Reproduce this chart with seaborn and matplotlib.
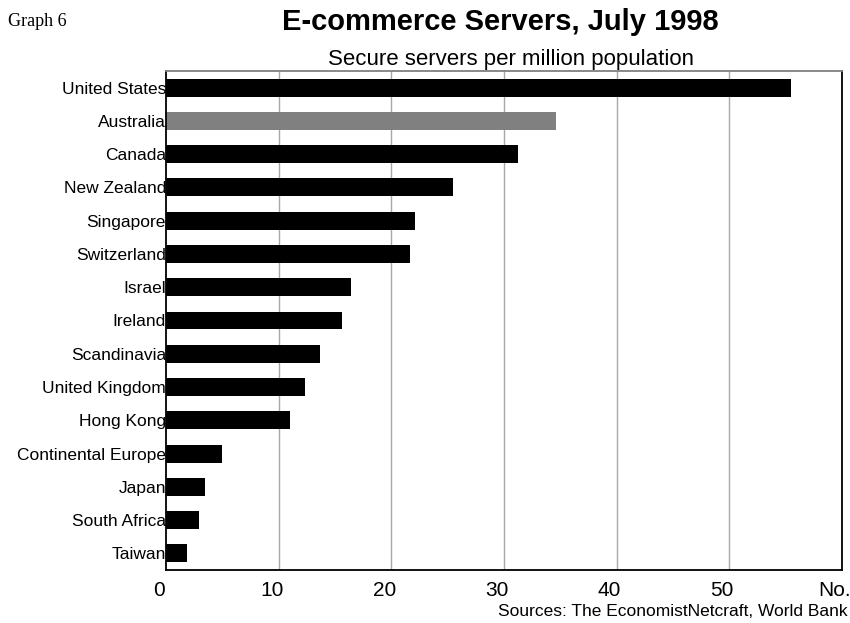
import matplotlib
matplotlib.use("Agg")
import matplotlib.pyplot as plt
import matplotlib.transforms as mtransforms
import seaborn as sns
import pandas as pd

countries = ["United States", "Australia", "Canada", "New Zealand", "Singapore",
             "Switzerland", "Israel", "Ireland", "Scandinavia", "United Kingdom",
             "Hong Kong", "Continental Europe", "Japan", "South Africa", "Taiwan"]
values = [55.5, 34.6, 31.2, 25.5, 22.1, 21.7, 16.4, 15.6, 13.7, 12.3, 11.0, 5.0, 3.5, 2.9, 1.9]
bar_colors = ["#000000", "#808080"] + ["#000000"] * 13
xtick_vals = [0, 10, 20, 30, 40, 50, 60]
xtick_labels = ["0", "10", "20", "30", "40", "50", "No."]

df = pd.DataFrame({"country": countries, "value": values})

sns.set_style("white")
plt.rcParams["font.family"] = ["Liberation Sans", "DejaVu Sans"]
plt.rcParams["text.color"] = "black"
plt.rcParams["xtick.color"] = "black"
plt.rcParams["ytick.color"] = "black"
plt.rcParams["axes.labelcolor"] = "black"

fig = plt.figure(figsize=(8.5, 6.23), dpi=100)
ax = fig.add_axes([166/850, 1 - 570/623, (842 - 166)/850, (570 - 71)/623])

sns.barplot(data=df, x="value", y="country", hue="country",
            palette=dict(zip(countries, bar_colors)), legend=False,
            width=0.54, orient="h", ax=ax, saturation=1, linewidth=0)

ax.set_xlim(0, 60)
ax.set_ylim(14.5, -0.5)
ax.set_xticks(xtick_vals)
ax.set_xticklabels(xtick_labels, fontsize=15)
ax.tick_params(axis="y", labelsize=12.5, length=0, pad=0, labelcolor="black")
ax.tick_params(axis="x", length=0, pad=8, labelcolor="black")
ax.set_xlabel("")
ax.set_ylabel("")

offset = mtransforms.ScaledTranslation(-7/100, 0, fig.dpi_scale_trans)
for lab in ax.get_xticklabels():
    lab.set_transform(lab.get_transform() + offset)

for x in [10, 20, 30, 40, 50]:
    ax.axvline(x, color="#a8a8a8", lw=1.0, zorder=0)

for side in ["left", "bottom", "right"]:
    ax.spines[side].set_color("#000000")
    ax.spines[side].set_linewidth(1.3)
ax.spines["top"].set_color("#808080")
ax.spines["top"].set_linewidth(1.3)

fig.text(8/850, 1 - 22/623, "Graph 6", family=["Liberation Serif", "DejaVu Serif"],
         fontsize=13, ha="left", va="center", color="black")
fig.text(500/850, 1 - 22/623, "E-commerce Servers, July 1998", fontsize=21,
         fontweight="bold", ha="center", va="center", color="black")
fig.text(511/850, 1 - 60/623, "Secure servers per million population", fontsize=16,
         ha="center", va="center", color="black")
fig.text(848/850, 1 - 612/623, "Sources: The EconomistNetcraft, World Bank", fontsize=12.5,
         ha="right", va="center", color="black")

fig.savefig("out.png", dpi=100)
